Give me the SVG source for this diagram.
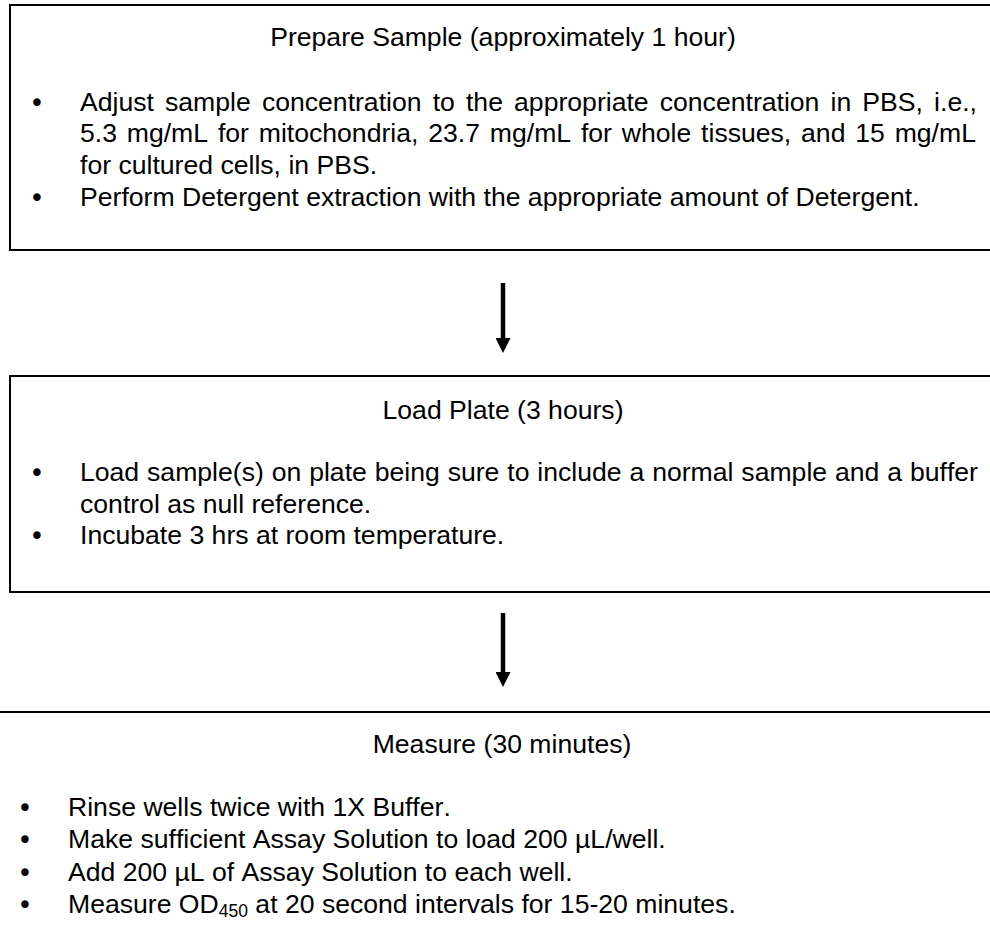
<svg xmlns="http://www.w3.org/2000/svg" width="990" height="940" viewBox="0 0 990 940">
  <style>
    .box { fill: #ffffff; stroke: #000000; stroke-width: 2; }
    .t { font-family: "Liberation Sans", Arial, sans-serif; font-size: 26.6px; fill: #000000; font-kerning: none; }
    .title { text-anchor: middle; }
    .bul { font-family: "DejaVu Sans", "Liberation Sans", sans-serif; font-size: 26px; fill: #000000; text-anchor: middle; }
    .shaft { stroke: #000000; stroke-width: 4.5; fill: none; }
  </style>
  <defs>
    <marker id="ah" viewBox="0 0 16 15" refX="0" refY="7.5" markerWidth="16" markerHeight="15" markerUnits="userSpaceOnUse" orient="auto">
      <path d="M0,0 L15,7.5 L0,15 Z" fill="#000000"/>
    </marker>
  </defs>
  <rect x="0" y="0" width="990" height="940" fill="#ffffff"/>

  <g id="node-prepare">
    <rect class="box" x="10" y="5" width="1000" height="245"/>
    <text class="t title" x="503" y="46">Prepare Sample (approximately 1 hour)</text>
    <text class="bul" x="37" y="111.5">•</text>
    <text class="t" y="110.5"><tspan x="80">Adjust</tspan> <tspan x="165.04">sample</tspan> <tspan x="261.89">concentration</tspan> <tspan x="432.69">to</tspan> <tspan x="465.99">the</tspan> <tspan x="514.08">appropriate</tspan> <tspan x="659.74">concentration</tspan> <tspan x="830.54">in</tspan> <tspan x="862.35">PBS,</tspan> <tspan x="934.09">i.e.,</tspan></text>
    <text class="t" y="142.2"><tspan x="80">5.3</tspan> <tspan x="126.79">mg/mL</tspan> <tspan x="217.90">for</tspan> <tspan x="258.76">mitochondria,</tspan> <tspan x="428.23">23.7</tspan> <tspan x="489.81">mg/mL</tspan> <tspan x="580.92">for</tspan> <tspan x="621.79">whole</tspan> <tspan x="701.09">tissues,</tspan> <tspan x="801.08">and</tspan> <tspan x="855.27">15</tspan> <tspan x="894.67">mg/mL</tspan></text>
    <text class="t" x="80" y="173.9">for cultured cells, in PBS.</text>
    <text class="bul" x="37" y="206.6">•</text>
    <text class="t" x="80" y="205.6">Perform Detergent extraction with the appropriate amount of Detergent.</text>
  </g>

  <g id="node-load">
    <rect class="box" x="10" y="376" width="1000" height="216"/>
    <text class="t title" x="503" y="419">Load Plate (3 hours)</text>
    <text class="bul" x="37" y="481.7">•</text>
    <text class="t" x="80" y="480.7" word-spacing="0.5">Load sample(s) on plate being sure to include a normal sample and a buffer</text>
    <text class="t" x="80" y="512.5">control as null reference.</text>
    <text class="bul" x="37" y="545.2">•</text>
    <text class="t" x="80" y="544.2">Incubate 3 hrs at room temperature.</text>
  </g>

  <g id="node-measure">
    <rect class="box" x="-10" y="712" width="1020" height="260"/>
    <text class="t title" x="502" y="753">Measure (30 minutes)</text>
    <text class="bul" x="25" y="817">•</text>
    <text class="t" x="68" y="816">Rinse wells twice with 1X Buffer.</text>
    <text class="bul" x="25" y="849.3">•</text>
    <text class="t" x="68" y="848.3">Make sufficient Assay Solution to load 200 µL/well.</text>
    <text class="bul" x="25" y="881.7">•</text>
    <text class="t" x="68" y="880.7">Add 200 µL of Assay Solution to each well.</text>
    <text class="bul" x="25" y="913.7">•</text>
    <text class="t" x="68" y="912.7">Measure OD<tspan font-size="17.5" dy="4">450</tspan><tspan dy="-4"> at 20 second intervals for 15-20 minutes.</tspan></text>
  </g>

  <g id="connectors">
    <line class="shaft" x1="503" y1="283" x2="503" y2="338" marker-end="url(#ah)"/>
    <line class="shaft" x1="503" y1="613" x2="503" y2="672" marker-end="url(#ah)"/>
  </g>
</svg>
